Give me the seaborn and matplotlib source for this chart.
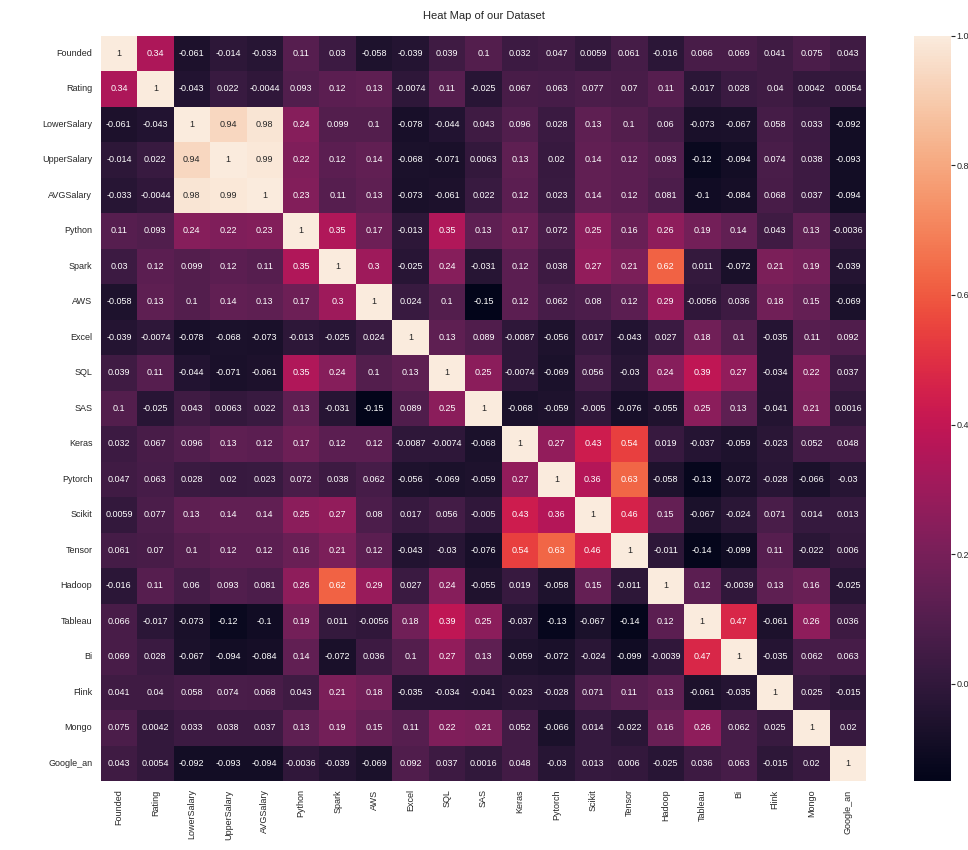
import numpy as np
import pandas as pd
import matplotlib
matplotlib.use('Agg')
import matplotlib.pyplot as plt
import seaborn as sns

#--------------------------------------------------
columns = ['Founded', 'Rating', 'LowerSalary', 'UpperSalary', 'AVGSalary',
           'Python', 'Spark', 'AWS', 'Excel', 'SQL', 'SAS', 'Keras',
           'Pytorch', 'Scikit', 'Tensor', 'Hadoop', 'Tableau', 'Bi',
           'Flink', 'Mongo', 'Google_an']

founded = [1, 0.34, -0.061, -0.014, -0.033, 0.11, 0.03, -0.058, -0.039, 0.039, 0.1, 0.032, 0.047, 0.0059, 0.061, -0.016, 0.066, 0.069, 0.041, 0.075, 0.043]
rating = [0.34, 1, -0.043, 0.022, -0.0044, 0.093, 0.12, 0.13, -0.0074, 0.11, -0.025, 0.067, 0.063, 0.077, 0.07, 0.11, -0.017, 0.028, 0.04, 0.0042, 0.0054]
lower_salary = [-0.061, -0.043, 1, 0.94, 0.98, 0.24, 0.099, 0.1, -0.078, -0.044, 0.043, 0.096, 0.028, 0.13, 0.1, 0.06, -0.073, -0.067, 0.058, 0.033, -0.092]
upper_salary = [-0.014, 0.022, 0.94, 1, 0.99, 0.22, 0.12, 0.14, -0.068, -0.071, 0.0063, 0.13, 0.02, 0.14, 0.12, 0.093, -0.12, -0.094, 0.074, 0.038, -0.093]
avg_salary = [-0.033, -0.0044, 0.98, 0.99, 1, 0.23, 0.11, 0.13, -0.073, -0.061, 0.022, 0.12, 0.023, 0.14, 0.12, 0.081, -0.1, -0.084, 0.068, 0.037, -0.094]
python = [0.11, 0.093, 0.24, 0.22, 0.23, 1, 0.35, 0.17, -0.013, 0.35, 0.13, 0.17, 0.072, 0.25, 0.16, 0.26, 0.19, 0.14, 0.043, 0.13, -0.0036]
spark = [0.03, 0.12, 0.099, 0.12, 0.11, 0.35, 1, 0.3, -0.025, 0.24, -0.031, 0.12, 0.038, 0.27, 0.21, 0.62, 0.011, -0.072, 0.21, 0.19, -0.039]
aws = [-0.058, 0.13, 0.1, 0.14, 0.13, 0.17, 0.3, 1, 0.024, 0.1, -0.15, 0.12, 0.062, 0.08, 0.12, 0.29, -0.0056, 0.036, 0.18, 0.15, -0.069]
excel = [-0.039, -0.0074, -0.078, -0.068, -0.073, -0.013, -0.025, 0.024, 1, 0.13, 0.089, -0.0087, -0.056, 0.017, -0.043, 0.027, 0.18, 0.1, -0.035, 0.11, 0.092]
sql = [0.039, 0.11, -0.044, -0.071, -0.061, 0.35, 0.24, 0.1, 0.13, 1, 0.25, -0.0074, -0.069, 0.056, -0.03, 0.24, 0.39, 0.27, -0.034, 0.22, 0.037]
sas = [0.1, -0.025, 0.043, 0.0063, 0.022, 0.13, -0.031, -0.15, 0.089, 0.25, 1, -0.068, -0.059, -0.005, -0.076, -0.055, 0.25, 0.13, -0.041, 0.21, 0.0016]
keras = [0.032, 0.067, 0.096, 0.13, 0.12, 0.17, 0.12, 0.12, -0.0087, -0.0074, -0.068, 1, 0.27, 0.43, 0.54, 0.019, -0.037, -0.059, -0.023, 0.052, 0.048]
pytorch = [0.047, 0.063, 0.028, 0.02, 0.023, 0.072, 0.038, 0.062, -0.056, -0.069, -0.059, 0.27, 1, 0.36, 0.63, -0.058, -0.13, -0.072, -0.028, -0.066, -0.03]
scikit = [0.0059, 0.077, 0.13, 0.14, 0.14, 0.25, 0.27, 0.08, 0.017, 0.056, -0.005, 0.43, 0.36, 1, 0.46, 0.15, -0.067, -0.024, 0.071, 0.014, 0.013]
tensor = [0.061, 0.07, 0.1, 0.12, 0.12, 0.16, 0.21, 0.12, -0.043, -0.03, -0.076, 0.54, 0.63, 0.46, 1, -0.011, -0.14, -0.099, 0.11, -0.022, 0.006]
hadoop = [-0.016, 0.11, 0.06, 0.093, 0.081, 0.26, 0.62, 0.29, 0.027, 0.24, -0.055, 0.019, -0.058, 0.15, -0.011, 1, 0.12, -0.0039, 0.13, 0.16, -0.025]
tableau = [0.066, -0.017, -0.073, -0.12, -0.1, 0.19, 0.011, -0.0056, 0.18, 0.39, 0.25, -0.037, -0.13, -0.067, -0.14, 0.12, 1, 0.47, -0.061, 0.26, 0.036]
bi = [0.069, 0.028, -0.067, -0.094, -0.084, 0.14, -0.072, 0.036, 0.1, 0.27, 0.13, -0.059, -0.072, -0.024, -0.099, -0.0039, 0.47, 1, -0.035, 0.062, 0.063]
flink = [0.041, 0.04, 0.058, 0.074, 0.068, 0.043, 0.21, 0.18, -0.035, -0.034, -0.041, -0.023, -0.028, 0.071, 0.11, 0.13, -0.061, -0.035, 1, 0.025, -0.015]
mongo = [0.075, 0.0042, 0.033, 0.038, 0.037, 0.13, 0.19, 0.15, 0.11, 0.22, 0.21, 0.052, -0.066, 0.014, -0.022, 0.16, 0.26, 0.062, 0.025, 1, 0.02]
google_an = [0.043, 0.0054, -0.092, -0.093, -0.094, -0.0036, -0.039, -0.069, 0.092, 0.037, 0.0016, 0.048, -0.03, 0.013, 0.006, -0.025, 0.036, 0.063, -0.015, 0.02, 1]


#--------------------------------------------------
def main():
    rows = [founded, rating, lower_salary, upper_salary, avg_salary, python,
            spark, aws, excel, sql, sas, keras, pytorch, scikit, tensor,
            hadoop, tableau, bi, flink, mongo, google_an]
    corr = pd.DataFrame(np.array(rows), index = columns, columns = columns)

    sns.set_theme(style = 'white')
    plt.rcParams['font.family'] = ['Liberation Sans', 'DejaVu Sans']
    plt.rcParams['text.color'] = '.15'
    plt.rcParams['xtick.color'] = '.15'
    plt.rcParams['ytick.color'] = '.15'

    fig = plt.figure(figsize = (9.68, 8.5), dpi = 100)
    ax = fig.add_axes([0.104, 0.081, 0.791, 0.877])
    cax = fig.add_axes([0.944, 0.081, 0.038, 0.877])

    sns.heatmap(corr, annot = True, ax = ax, cbar_ax = cax,
                annot_kws = {'fontsize': 6.5})
    ax.set_title('Heat Map of our Dataset', fontsize = 8, pad = 12)
    ax.tick_params(axis = 'both', labelsize = 6.5, length = 0, pad = 6)
    ax.set_xticklabels(columns, rotation = 90)
    ax.set_yticklabels(columns, rotation = 0)
    cax.tick_params(labelsize = 6.5, length = 3, width = 0.8, pad = 1)
    cax.set_yticks([0.0, 0.2, 0.4, 0.6, 0.8, 1.0])

    fig.savefig('out.png', dpi = 100)


#--------------------------------------------------
if __name__ == '__main__':
    main()
